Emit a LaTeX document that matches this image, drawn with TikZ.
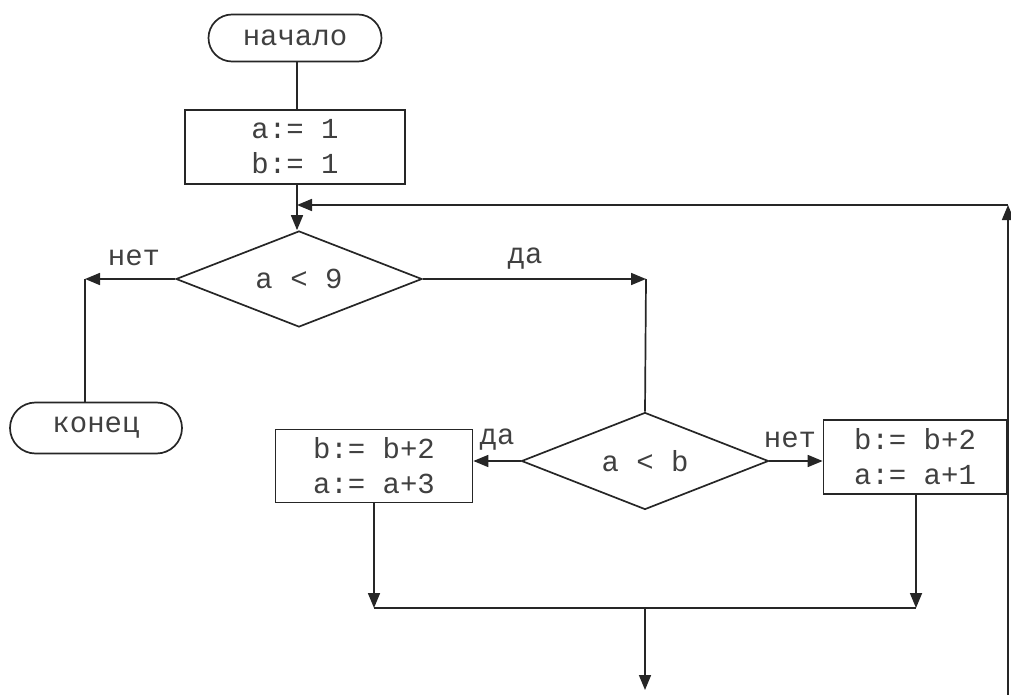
\documentclass[tikz,border=0pt]{standalone}
\usepackage{fontspec}
\setmonofont{Liberation Mono}
\usetikzlibrary{shapes.geometric,shapes.misc,arrows.meta}
\begin{document}
\begin{tikzpicture}[x=1pt,y=-1pt,
  line width=1.7pt, draw=black!85,
  every node/.style={font=\ttfamily\fontsize{29}{35}\selectfont, text=black!75},
  term/.style={draw, rounded rectangle, inner sep=0pt},
  proc/.style={draw, rectangle, inner sep=0pt, align=center},
  dec/.style={draw, diamond, aspect=3, inner sep=0pt},
  arr/.style={-{Triangle[length=15pt,width=12pt]}},
  lbl/.style={inner sep=0pt}]
\useasboundingbox (0,0) rectangle (1011,695);
% nodes
\node[term, minimum width=173pt, minimum height=47pt] (start) at (295,38) {начало};
\node[proc, minimum width=220pt, minimum height=74pt] (init) at (295,147) {a:= 1\\b:= 1};
\node[dec, minimum width=246pt, minimum height=96pt] (c1) at (299,279) {a < 9};
\node[term, minimum width=172pt, minimum height=51pt] (end) at (96,428) {конец};
\node[dec, minimum width=247pt, minimum height=97pt] (c2) at (645,461) {a < b};
\node[proc, minimum width=197pt, minimum height=73pt] (left) at (374,466) {b:= b+2\\a:= a+3};
\node[proc, minimum width=183pt, minimum height=74pt] (right) at (915,457) {b:= b+2\\a:= a+1};
% labels
\node[lbl] (l1) at (134,258) {нет};
\node[lbl] (l2) at (525,259) {да};
\node[lbl] (l3) at (497,440) {да};
\node[lbl] (l4) at (790,440) {нет};
% coordinates
\coordinate (nL) at (85,279);
\coordinate (yR) at (646,279);
\coordinate (j1) at (297,205);
\coordinate (rt) at (1008,205);
\coordinate (rb) at (1008,697);
\coordinate (mL) at (374,608);
\coordinate (mR) at (916,608);
\coordinate (mC) at (645,608);
\coordinate (out) at (645,690);
% connectors
\draw (start.south -| j1) -- (init.north -| j1);
\draw[arr] (init.south -| j1) -- (c1.north -| j1);
\draw[arr] (c1.west) -- (nL);
\draw (nL) -- (nL |- end.north);
\draw[arr] (c1.east) -- (yR);
\draw (yR) -- (c2.north);
\draw[arr] (c2.west) -- (left.east |- c2.west);
\draw[arr] (c2.east) -- (right.west |- c2.east);
\draw[arr] (left.south) -- (mL);
\draw[arr] (right.south -| mR) -- (mR);
\draw (mL) -- (mR);
\draw[arr] (mC) -- (out);
\draw[arr] (rb) -- (rt);
\draw[arr] (rt) -- (j1);
\end{tikzpicture}
\end{document}
